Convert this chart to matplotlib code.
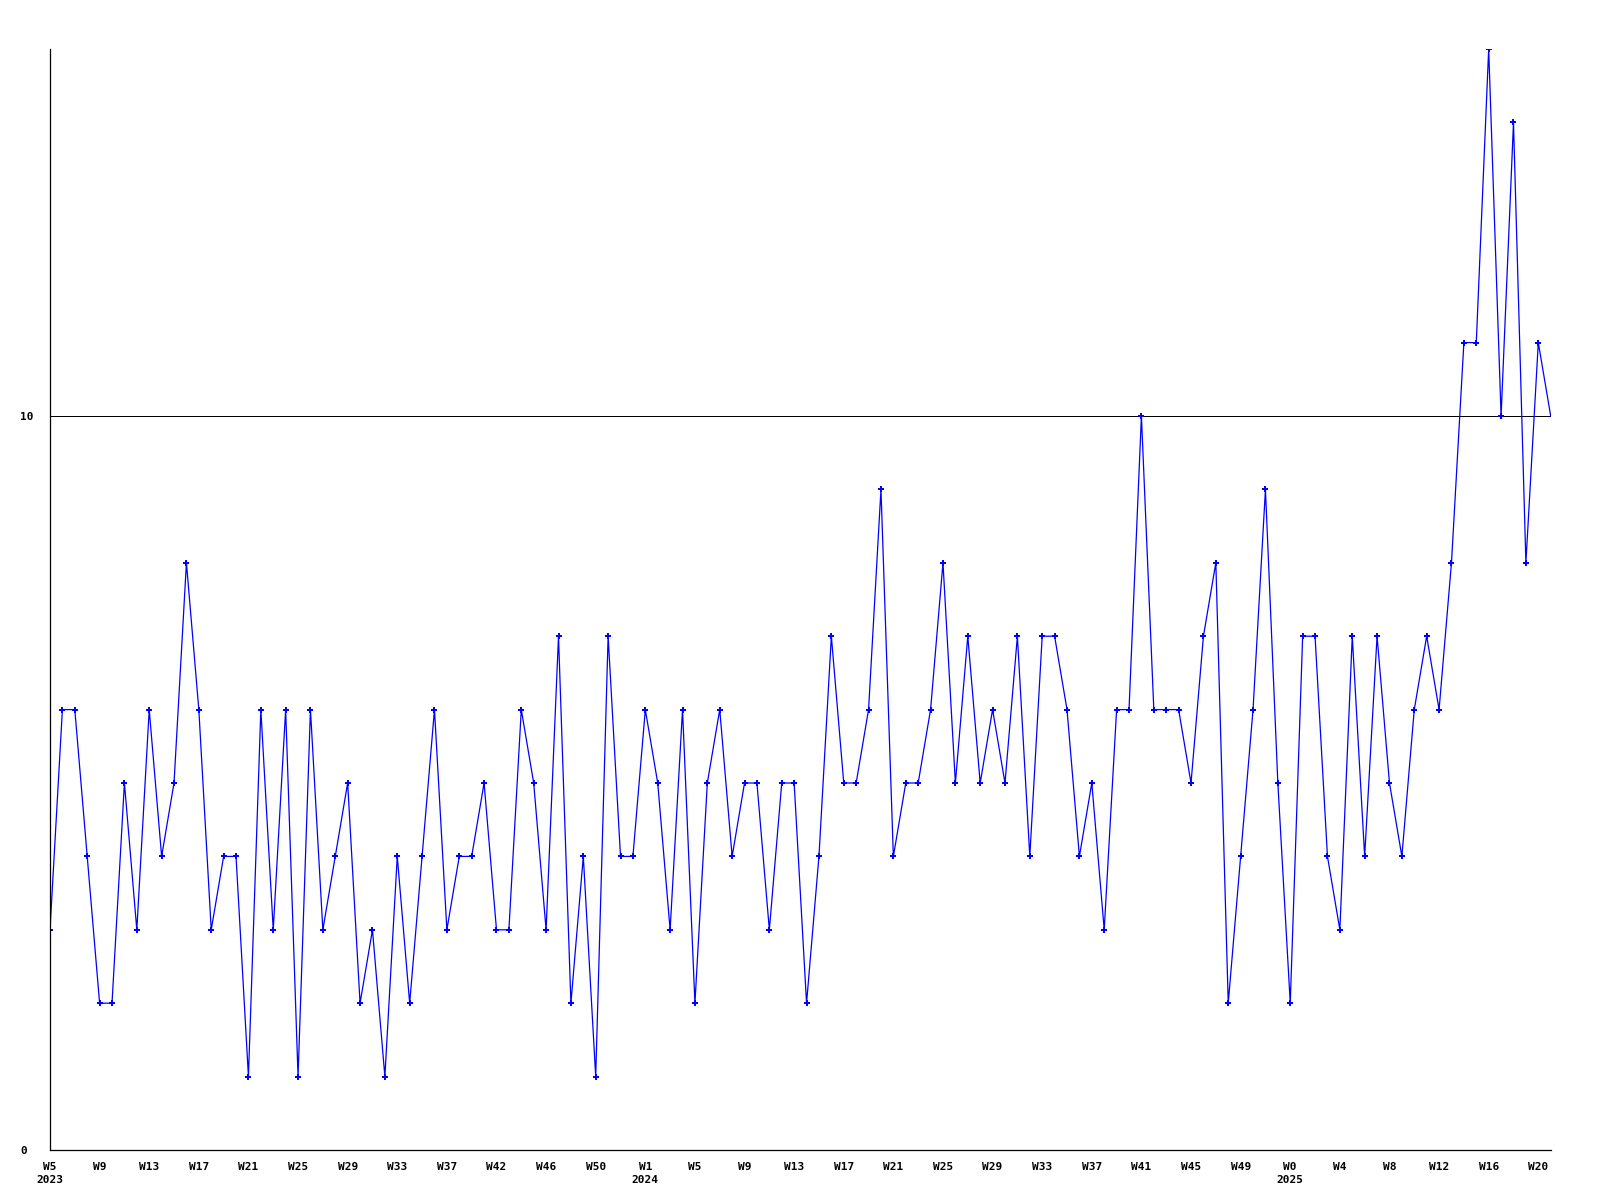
import matplotlib
matplotlib.use('Agg')
from matplotlib import pyplot as plt

# weekly counts, W5 2023 .. W21 2025
values = [3, 6, 6, 4, 2, 2, 5, 3, 6, 4, 5, 8, 6, 3, 4, 4, 1, 6, 3, 6,
          1, 6, 3, 4, 5, 2, 3, 1, 4, 2, 4, 6, 3, 4, 4, 5, 3, 3, 6, 5,
          3, 7, 2, 4, 1, 7, 4, 4, 6, 5, 3, 6, 2, 5, 6, 4, 5, 5, 3, 5,
          5, 2, 4, 7, 5, 5, 6, 9, 4, 5, 5, 6, 8, 5, 7, 5, 6, 5, 7, 4,
          7, 7, 6, 4, 5, 3, 6, 6, 10, 6, 6, 6, 5, 7, 8, 2, 4, 6, 9, 5,
          2, 7, 7, 4, 3, 7, 4, 7, 5, 4, 6, 7, 6, 8, 11, 11, 15, 10, 14, 8,
          11, 10]

week_labels = ['W5', 'W9', 'W13', 'W17', 'W21', 'W25', 'W29', 'W33', 'W37',
               'W42', 'W46', 'W50',
               'W1', 'W5', 'W9', 'W13', 'W17', 'W21', 'W25', 'W29', 'W33',
               'W37', 'W41', 'W45', 'W49',
               'W0', 'W4', 'W8', 'W12', 'W16', 'W20']
year_labels = ['2023'] + [''] * 11 + ['2024'] + [''] * 12 + ['2025'] + [''] * 5

y_ticks = [0, 10]

plt.rcParams['font.family'] = 'DejaVu Sans Mono'
plt.rcParams['font.weight'] = 'bold'
plt.rcParams['font.size'] = 8

fig = plt.figure(figsize=(16, 12), dpi=100)
ax = fig.add_axes([50 / 1600, 1 - 1150 / 1200, 1500.7 / 1600, 1101 / 1200])

x = list(range(len(values)))
ax.axhline(10, color='black', lw=0.72, zorder=1)
ax.plot(x, values, color='#0000ff', lw=0.9, zorder=2,
        marker='P', markersize=4.5, markeredgewidth=0,
        markevery=list(range(len(values) - 1)))

ax.set_xlim(0, len(values) - 1)
ax.set_ylim(0, 15)

ticks = list(range(0, len(values), 4))
labels = [w + '\n' + y for w, y in zip(week_labels, year_labels)]
ax.set_xticks(ticks)
ax.set_xticklabels(labels, linespacing=1.45, va='top')
ax.set_yticks(y_ticks)
ax.set_yticklabels([str(v) for v in y_ticks], ha='left')
ax.tick_params(axis='x', length=0, pad=8.5)
ax.tick_params(axis='y', length=0, pad=21.6)

for side in ['top', 'right']:
    ax.spines[side].set_visible(False)
for side in ['left', 'bottom']:
    ax.spines[side].set_linewidth(0.9)

fig.savefig('out.png', dpi=100)
